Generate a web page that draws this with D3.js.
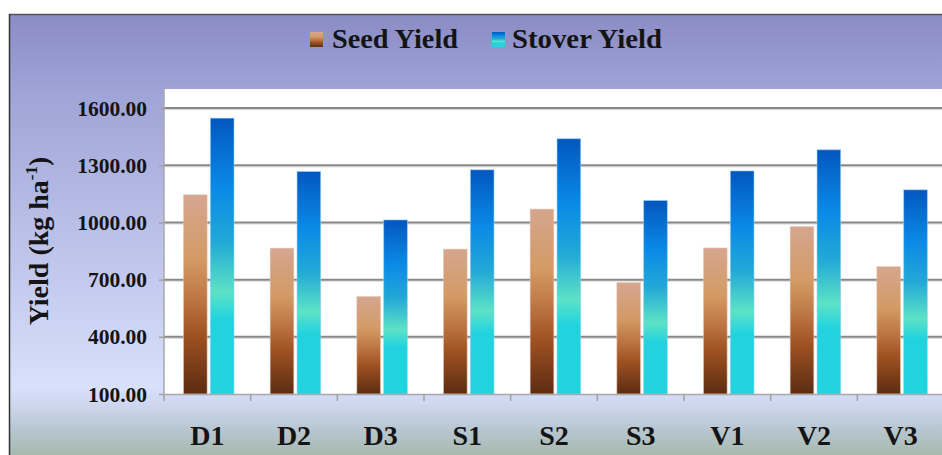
<!DOCTYPE html>
<html>
<head>
<meta charset="utf-8">
<script src="https://cdn.jsdelivr.net/npm/d3@7"></script>
<style>
  html, body { margin: 0; padding: 0; background: #ffffff; }
  svg { display: block; }
  text { font-family: "Liberation Serif", "Times New Roman", serif; font-weight: bold; fill: #141414; }
</style>
</head>
<body>
<svg id="chart" width="942" height="455"></svg>
<script>
// Yield by treatment
const categories = ["D1", "D2", "D3", "S1", "S2", "S3", "V1", "V2", "V3"];
const seriesNames = ["Seed Yield", "Stover Yield"];
const seedYield = [1145, 865, 611, 860, 1070, 684, 866, 978, 768];
const stoverYield = [1547, 1267, 1013, 1276, 1439, 1115, 1270, 1381, 1171];
const yTicks = [100, 400, 700, 1000, 1300, 1600];

const svg = d3.select("#chart");
const W = 942, H = 455;
const plot = { left: 164, top: 89, right: 944, bottom: 394 };

const defs = svg.append("defs");

// Figure background: lavender fading to pale blue, then grey-green at the base
const bg = defs.append("linearGradient").attr("id", "bgGrad")
  .attr("x1", 0).attr("y1", 0).attr("x2", 0).attr("y2", 1);
[[0, "#8a8cc4"], [0.17, "#9fa3d6"], [0.82, "#d8e0fb"], [0.855, "#cfd8f0"], [0.91, "#b9c7d3"], [0.97, "#a6b9ae"], [1, "#a4b7ab"]]
  .forEach(([o, c]) => bg.append("stop").attr("offset", o).attr("stop-color", c));

// Bar fills, stretched over each bar's own height
function barGradient(id, stops) {
  const g = defs.append("linearGradient").attr("id", id)
    .attr("x1", 0).attr("y1", 0).attr("x2", 0).attr("y2", 1);
  stops.forEach(([o, c]) => g.append("stop").attr("offset", o).attr("stop-color", c));
}
barGradient("seedGrad", [[0, "#d5a690"], [0.33, "#d39a64"], [0.55, "#b9713f"], [0.7, "#a05222"], [1, "#5b2c12"]]);
barGradient("stoverGrad", [[0, "#0357bf"], [0.25, "#0a89e6"], [0.45, "#22a9d6"], [0.63, "#5de2c6"], [0.73, "#22d3df"], [1, "#21d4e0"]]);
const fills = { "Seed Yield": "url(#seedGrad)", "Stover Yield": "url(#stoverGrad)" };
const edges = { "Seed Yield": "#e6c4b0", "Stover Yield": "#8fd2f4" };

// Framed background panel (runs off the right and bottom edges)
svg.append("rect").attr("x", 9).attr("y", 14).attr("width", W).attr("height", H)
  .attr("fill", "url(#bgGrad)");
svg.append("line").attr("x1", 9).attr("x2", W).attr("y1", 14.5).attr("y2", 14.5)
  .attr("stroke", "#555").attr("stroke-width", 1.5);
svg.append("line").attr("x1", 9.5).attr("x2", 9.5).attr("y1", 14).attr("y2", H)
  .attr("stroke", "#333").attr("stroke-width", 1.5);

// Scales
const x0 = d3.scaleBand().domain(categories).range([plot.left, plot.right]).padding(0);
const x1 = d3.scaleBand().domain(seriesNames).range([19.5, 70]).paddingInner(0.12).paddingOuter(0);
const y = d3.scaleLinear().domain([100, 1700]).range([plot.bottom, plot.top]);

// Plot area
svg.append("rect").attr("x", plot.left).attr("y", plot.top)
  .attr("width", plot.right - plot.left).attr("height", plot.bottom - plot.top)
  .attr("fill", "#ffffff");

// Gridlines
const grid = svg.append("g");
yTicks.filter(t => t > 100).forEach(t => {
  grid.append("line").attr("x1", plot.left).attr("x2", plot.right)
    .attr("y1", y(t) + 1.5).attr("y2", y(t) + 1.5)
    .attr("stroke", "#d4d4d4").attr("stroke-width", 1);
  grid.append("line").attr("x1", plot.left).attr("x2", plot.right)
    .attr("y1", y(t)).attr("y2", y(t))
    .attr("stroke", "#898989").attr("stroke-width", 2);
});

// Bars
const rows = categories.map((c, i) => ({
  category: c,
  values: [
    { series: "Seed Yield", value: seedYield[i] },
    { series: "Stover Yield", value: stoverYield[i] }
  ]
}));
const groups = svg.append("g").selectAll("g").data(rows).join("g")
  .attr("transform", d => `translate(${x0(d.category)},0)`);
groups.selectAll("rect").data(d => d.values).join("rect")
  .attr("x", d => x1(d.series))
  .attr("y", d => y(d.value))
  .attr("width", x1.bandwidth())
  .attr("height", d => y(100) - y(d.value))
  .attr("fill", d => fills[d.series])
  .attr("stroke", d => edges[d.series])
  .attr("stroke-width", 0.8)
  .attr("stroke-opacity", 0.7);

// Y axis
const yAxis = svg.append("g").attr("transform", `translate(${plot.left},0)`)
  .call(d3.axisLeft(y).tickValues(yTicks).tickSize(5).tickPadding(12)
    .tickFormat(d3.format(".2f")));
yAxis.select(".domain").attr("stroke", "#a8a8a8").attr("stroke-width", 1.5)
  .attr("d", `M0,${plot.top}V${plot.bottom}`);
yAxis.selectAll(".tick line").attr("stroke", "#a0a0a0").attr("stroke-width", 1.5);
yAxis.selectAll(".tick text").attr("font-size", 21.5).attr("fill", "#141414")
  .attr("font-family", "Liberation Serif, serif").attr("font-weight", "bold")
  .attr("dy", "0.33em");

// X axis
const xAxis = svg.append("g").attr("transform", `translate(0,${plot.bottom})`)
  .call(d3.axisBottom(x0).tickSize(0).tickPadding(48));
xAxis.select(".domain").attr("stroke", "#a8a8a8").attr("stroke-width", 1.5);
xAxis.selectAll(".tick text").attr("font-size", 28).attr("fill", "#141414")
  .attr("font-family", "Liberation Serif, serif").attr("font-weight", "bold")
  .attr("dy", "0.1em");
// Category separators
xAxis.selectAll(".sep").data(categories).join("line").attr("class", "sep")
  .attr("x1", d => x0(d)).attr("x2", d => x0(d))
  .attr("y1", 0).attr("y2", 7)
  .attr("stroke", "#a0a0a0").attr("stroke-width", 1.5);

// Y axis title
const yTitle = svg.append("text")
  .attr("transform", "translate(48,241) rotate(-90)")
  .attr("text-anchor", "middle")
  .attr("font-size", 28);
yTitle.append("tspan").text("Yield (kg ha");
yTitle.append("tspan").attr("font-size", 17).attr("dy", -11).text("-1");
yTitle.append("tspan").attr("dy", 11).text(")");

// Legend
const legend = svg.append("g");
const legendItems = [
  { name: "Seed Yield", sx: 310, tx: 332, len: 126 },
  { name: "Stover Yield", sx: 492, tx: 512, len: 150 }
];
legendItems.forEach(it => {
  legend.append("rect").attr("x", it.sx).attr("y", 32).attr("width", 13).attr("height", 15)
    .attr("fill", fills[it.name]);
  legend.append("text").attr("x", it.tx).attr("y", 48).attr("font-size", 28)
    .attr("textLength", it.len).attr("lengthAdjust", "spacingAndGlyphs").text(it.name);
});
</script>
</body>
</html>
